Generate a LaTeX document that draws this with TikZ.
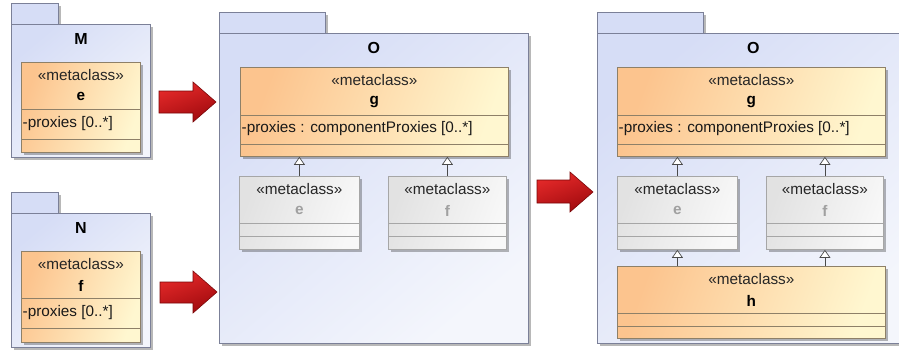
\documentclass[tikz,border=0pt]{standalone}
\usepackage{fontspec}
\setmainfont{Liberation Sans}
\usetikzlibrary{arrows.meta,shadows}
\definecolor{pkgA}{HTML}{D6DDF6}
\definecolor{pkgB}{HTML}{F4F6FC}
\definecolor{pkgBorder}{HTML}{7B8098}
\definecolor{clsA}{HTML}{FCC48E}
\definecolor{clsB}{HTML}{FFF7D0}
\definecolor{clsBorder}{HTML}{8E8068}
\definecolor{grA}{HTML}{E2E2E2}
\definecolor{grB}{HTML}{F8F8F8}
\definecolor{grBorder}{HTML}{A6A6A6}
\definecolor{grText}{HTML}{A0A0A0}
\definecolor{arrA}{HTML}{E62A2A}
\definecolor{arrB}{HTML}{A00A0E}
\definecolor{arrBorder}{HTML}{7A0608}
\definecolor{genLine}{HTML}{4A4A4A}
\newcommand\txtfont{\fontsize{15.3}{18}\selectfont}
\newcommand\lblfont{\fontsize{16}{19}\selectfont}
\tikzset{
  shad/.style={drop shadow={shadow xshift=3pt, shadow yshift=-3pt, fill=black, opacity=0.28}},
  pkgbody/.style={shad, draw=pkgBorder, line width=0.9pt, top color=pkgA, bottom color=pkgB, shading angle=40, inner sep=0pt, anchor=north west},
  pkgtab/.style={shad, draw=pkgBorder, line width=0.9pt, fill=pkgA, inner sep=0pt, anchor=north west, minimum height=21pt},
  pkglabel/.style={font=\lblfont\bfseries, inner sep=0pt},
  orcls/.style={shad, draw=clsBorder, line width=0.8pt, top color=clsA, bottom color=clsB, shading angle=70, inner sep=0pt, anchor=north west},
  grcls/.style={shad, draw=grBorder, line width=0.8pt, top color=grA, bottom color=grB, shading angle=70, inner sep=0pt, anchor=north west},
  stereo/.style={font=\txtfont, inner sep=0pt, text=black!85},
  cname/.style={font=\txtfont\bfseries, inner sep=0pt},
  attr/.style={font=\txtfont, inner sep=0pt, anchor=west, text=black!90},
  orsep/.style={draw=clsBorder, line width=0.8pt},
  grsep/.style={draw=grBorder, line width=0.8pt},
  gen/.style={draw=genLine, line width=0.7pt, -{Triangle[length=8pt,width=11pt,fill=white]}},
  blockarr/.style={draw=arrBorder, line width=0.6pt, top color=arrA, bottom color=arrB, shading angle=20},
}
% #1 name, #2 style, #3 position, #4 width, #5 height, #6 title, #7 name colour
\newcommand\mkclass[7]{%
  \node[#2, minimum width=#4pt, minimum height=#5pt] (#1) at (#3) {};
  \node[stereo] (#1-st) at ([yshift=-13.5pt]#1.north) {«metaclass»};
  \node[cname, text=#7] (#1-nm) at ([yshift=-34.5pt]#1.north) {#6};
}
\begin{document}
\begin{tikzpicture}[x=1pt,y=-1pt]
\useasboundingbox (0,0) rectangle (899,351);
\clip (0,0) rectangle (899,351);
\fill[white] (0,0) rectangle (899,351);

% ---------- package M ----------
\node[pkgtab, minimum width=47pt] (Mtab) at (11,3) {};
\node[pkgbody, minimum width=139pt, minimum height=133pt] (M) at (11,24) {};
\node[pkglabel] (Mlabel) at ([yshift=-14.5pt]M.north) {M};
\mkclass{ce1}{orcls}{21,62}{119}{90}{e}{black}
\draw[orsep] ([yshift=-47.5pt]ce1.north west) -- ([yshift=-47.5pt]ce1.north east);
\node[attr] (ce1-at) at ([xshift=1.5pt,yshift=-61.5pt]ce1.north west) {-proxies [0..*]};
\draw[orsep] ([yshift=-77pt]ce1.north west) -- ([yshift=-77pt]ce1.north east);

% ---------- package N ----------
\node[pkgtab, minimum width=47pt] (Ntab) at (11,192) {};
\node[pkgbody, minimum width=139pt, minimum height=134pt] (N) at (11,213) {};
\node[pkglabel] (Nlabel) at ([yshift=-14.5pt]N.north) {N};
\mkclass{cf1}{orcls}{21,251}{119}{91}{f}{black}
\draw[orsep] ([yshift=-47.5pt]cf1.north west) -- ([yshift=-47.5pt]cf1.north east);
\node[attr] (cf1-at) at ([xshift=1.5pt,yshift=-61.5pt]cf1.north west) {-proxies [0..*]};
\draw[orsep] ([yshift=-77pt]cf1.north west) -- ([yshift=-77pt]cf1.north east);

% ---------- package O (middle) ----------
\node[pkgtab, minimum width=106pt] (O1tab) at (219,12) {};
\node[pkgbody, minimum width=309pt, minimum height=310pt] (O1) at (219,33) {};
\node[pkglabel] (O1label) at ([yshift=-14.5pt]O1.north) {O};
\mkclass{cg1}{orcls}{240,67}{268}{89}{g}{black}
\draw[orsep] ([yshift=-48.5pt]cg1.north west) -- ([yshift=-48.5pt]cg1.north east);
\node[attr] (cg1-at) at ([xshift=1.5pt,yshift=-61.5pt]cg1.north west) {-proxies : componentProxies [0..*]};
\draw[orsep] ([yshift=-77pt]cg1.north west) -- ([yshift=-77pt]cg1.north east);
\mkclass{ge1}{grcls}{239,176}{120}{73}{e}{grText}
\draw[grsep] ([yshift=-47pt]ge1.north west) -- ([yshift=-47pt]ge1.north east);
\draw[grsep] ([yshift=-60pt]ge1.north west) -- ([yshift=-60pt]ge1.north east);
\mkclass{gf1}{grcls}{388,176}{118}{73}{f}{grText}
\draw[grsep] ([yshift=-47pt]gf1.north west) -- ([yshift=-47pt]gf1.north east);
\draw[grsep] ([yshift=-60pt]gf1.north west) -- ([yshift=-60pt]gf1.north east);
\draw[gen] (ge1.north) -- (ge1.north |- cg1.south);
\draw[gen] (gf1.north) -- (gf1.north |- cg1.south);

% ---------- package O (right) ----------
\node[pkgtab, minimum width=106pt] (O2tab) at (597,12) {};
\node[pkgbody, minimum width=312pt, minimum height=310pt] (O2) at (597,33) {};
\node[pkglabel] (O2label) at ([yshift=-14.5pt]O2.north) {O};
\mkclass{cg2}{orcls}{617,67}{268}{89}{g}{black}
\draw[orsep] ([yshift=-48.5pt]cg2.north west) -- ([yshift=-48.5pt]cg2.north east);
\node[attr] (cg2-at) at ([xshift=1.5pt,yshift=-61.5pt]cg2.north west) {-proxies : componentProxies [0..*]};
\draw[orsep] ([yshift=-77pt]cg2.north west) -- ([yshift=-77pt]cg2.north east);
\mkclass{ge2}{grcls}{617,176}{120}{73}{e}{grText}
\draw[grsep] ([yshift=-47pt]ge2.north west) -- ([yshift=-47pt]ge2.north east);
\draw[grsep] ([yshift=-60pt]ge2.north west) -- ([yshift=-60pt]ge2.north east);
\mkclass{gf2}{grcls}{766,176}{117}{73}{f}{grText}
\draw[grsep] ([yshift=-47pt]gf2.north west) -- ([yshift=-47pt]gf2.north east);
\draw[grsep] ([yshift=-60pt]gf2.north west) -- ([yshift=-60pt]gf2.north east);
\mkclass{ch2}{orcls}{617,266}{268}{72}{h}{black}
\draw[orsep] ([yshift=-47pt]ch2.north west) -- ([yshift=-47pt]ch2.north east);
\draw[orsep] ([yshift=-60pt]ch2.north west) -- ([yshift=-60pt]ch2.north east);
\draw[gen] (ge2.north) -- (ge2.north |- cg2.south);
\draw[gen] (gf2.north) -- (gf2.north |- cg2.south);
\draw[gen] (ch2.north -| ge2.south) -- (ge2.south);
\draw[gen] (ch2.north -| gf2.south) -- (gf2.south);

% ---------- block arrows ----------
\draw[blockarr] (159,91) -- (193,91) -- (193,82) -- (216,102) -- (193,122) -- (193,113) -- (159,113) -- cycle;
\draw[blockarr] (160,282) -- (193,282) -- (193,271) -- (217,292) -- (193,313) -- (193,303) -- (160,303) -- cycle;
\draw[blockarr] (537,180) -- (570,180) -- (570,172) -- (593,192) -- (570,212) -- (570,203) -- (537,203) -- cycle;
\end{tikzpicture}
\end{document}
